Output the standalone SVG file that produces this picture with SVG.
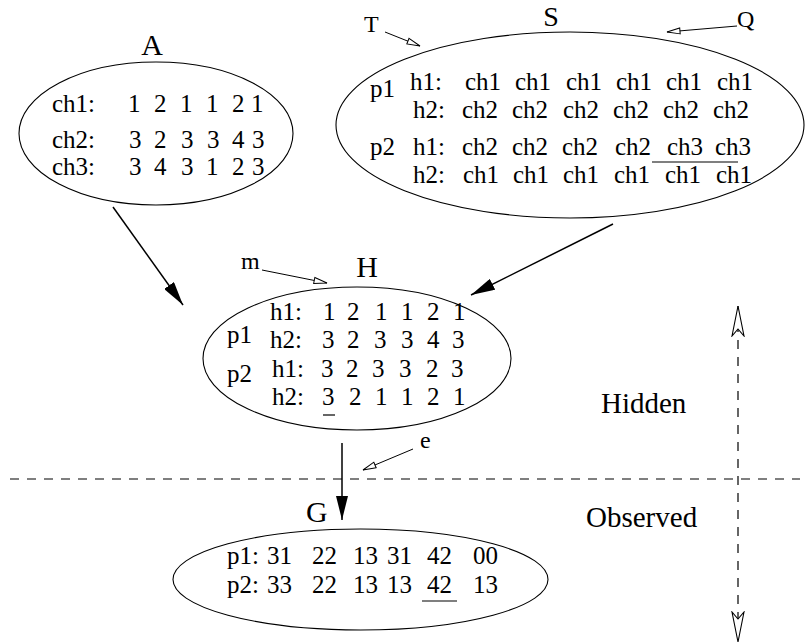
<svg xmlns="http://www.w3.org/2000/svg" width="806" height="644" viewBox="0 0 806 644">
  <style>
    text { font-family: "Liberation Serif", "Times New Roman", serif; fill: #000; }
    .body { font-size: 25px; }
    .label { font-size: 30px; }
    .tag { font-size: 24px; }
    .big { font-size: 29px; }
    .shape { fill: none; stroke: #000; stroke-width: 1.1; }
    .edge { fill: none; stroke: #000; stroke-width: 1.5; }
    .pointer { fill: none; stroke: #000; stroke-width: 1; }
    .rule { fill: none; stroke: #000; stroke-width: 1.2; }
    .dash { fill: none; stroke: #000; stroke-width: 1.2; stroke-dasharray: 9 8; }
  </style>
  <defs>
    <marker id="solid" viewBox="0 0 24 12" refX="24" refY="6" markerWidth="24" markerHeight="12" markerUnits="userSpaceOnUse" orient="auto">
      <path d="M0,0 L24,6 L0,12 Z" fill="#000"/>
    </marker>
    <marker id="open" viewBox="0 0 15 8" refX="14" refY="4" markerWidth="15" markerHeight="8" markerUnits="userSpaceOnUse" orient="auto">
      <path d="M1,1 L14,4 L1,7 Z" fill="#fff" stroke="#000" stroke-width="1"/>
    </marker>
    <marker id="barb" viewBox="0 0 32 14" refX="31" refY="7" markerWidth="32" markerHeight="14" markerUnits="userSpaceOnUse" orient="auto-start-reverse">
      <path d="M1,1 L31,7 L1,13 L8,7 Z" fill="#fff" stroke="#000" stroke-width="1.1"/>
    </marker>
  </defs>

  <!-- node A: channel assignments -->
  <g id="node-A">
    <text class="label" x="152" y="55" text-anchor="middle">A</text>
    <ellipse class="shape" cx="156" cy="133.5" rx="137" ry="71.5"/>
    <text class="body" y="112"><tspan x="52">ch1:</tspan><tspan x="128">1</tspan><tspan x="154">2</tspan><tspan x="180">1</tspan><tspan x="206">1</tspan><tspan x="232">2</tspan><tspan x="251">1</tspan></text>
    <text class="body" y="148"><tspan x="52">ch2:</tspan><tspan x="129">3</tspan><tspan x="154">2</tspan><tspan x="181">3</tspan><tspan x="207">3</tspan><tspan x="232">4</tspan><tspan x="252">3</tspan></text>
    <text class="body" y="175"><tspan x="52">ch3:</tspan><tspan x="129">3</tspan><tspan x="154">4</tspan><tspan x="181">3</tspan><tspan x="206">1</tspan><tspan x="232">2</tspan><tspan x="252">3</tspan></text>
  </g>

  <!-- node S: haplotype channel sources -->
  <g id="node-S">
    <text class="label" x="551" y="26" text-anchor="middle" style="font-size:28px">S</text>
    <ellipse class="shape" cx="570" cy="125" rx="234" ry="93"/>
    <text class="body" x="370" y="97">p1</text>
    <text class="body" y="90"><tspan x="410">h1:</tspan><tspan x="465">ch1</tspan><tspan x="515">ch1</tspan><tspan x="566">ch1</tspan><tspan x="616">ch1</tspan><tspan x="666">ch1</tspan><tspan x="717">ch1</tspan></text>
    <text class="body" y="118"><tspan x="413">h2:</tspan><tspan x="462">ch2</tspan><tspan x="512">ch2</tspan><tspan x="563">ch2</tspan><tspan x="613">ch2</tspan><tspan x="663">ch2</tspan><tspan x="713">ch2</tspan></text>
    <text class="body" x="370" y="155">p2</text>
    <text class="body" y="155"><tspan x="413">h1:</tspan><tspan x="462">ch2</tspan><tspan x="512">ch2</tspan><tspan x="562">ch2</tspan><tspan x="615">ch2</tspan><tspan x="667">ch3</tspan><tspan x="715">ch3</tspan></text>
    <text class="body" y="183"><tspan x="413">h2:</tspan><tspan x="463">ch1</tspan><tspan x="513">ch1</tspan><tspan x="563">ch1</tspan><tspan x="614">ch1</tspan><tspan x="665">ch1</tspan><tspan x="716">ch1</tspan></text>
    <line class="rule" x1="652" y1="162" x2="738" y2="162"/>
  </g>

  <!-- node H: hidden haplotypes -->
  <g id="node-H">
    <text class="label" x="367" y="277" text-anchor="middle">H</text>
    <ellipse class="shape" cx="357" cy="358.5" rx="154" ry="71.5"/>
    <text class="body" x="227" y="343">p1</text>
    <text class="body" x="227" y="382">p2</text>
    <text class="body" y="320"><tspan x="270">h1:</tspan><tspan x="323">1</tspan><tspan x="347">2</tspan><tspan x="375">1</tspan><tspan x="401">1</tspan><tspan x="427">2</tspan><tspan x="453">1</tspan></text>
    <text class="body" y="348"><tspan x="270">h2:</tspan><tspan x="322">3</tspan><tspan x="347">2</tspan><tspan x="374">3</tspan><tspan x="401">3</tspan><tspan x="427">4</tspan><tspan x="452">3</tspan></text>
    <text class="body" y="377"><tspan x="272">h1:</tspan><tspan x="321">3</tspan><tspan x="346">2</tspan><tspan x="372">3</tspan><tspan x="399">3</tspan><tspan x="426">2</tspan><tspan x="451">3</tspan></text>
    <text class="body" y="405"><tspan x="272">h2:</tspan><tspan x="322">3</tspan><tspan x="349">2</tspan><tspan x="375">1</tspan><tspan x="401">1</tspan><tspan x="427">2</tspan><tspan x="453">1</tspan></text>
    <line class="rule" x1="323" y1="415" x2="335" y2="415"/>
  </g>

  <!-- node G: observed genotypes -->
  <g id="node-G">
    <text class="label" x="306" y="522">G</text>
    <ellipse class="shape" cx="360.5" cy="579.5" rx="187.5" ry="50.5"/>
    <text class="body" y="564"><tspan x="227">p1:</tspan><tspan x="267">31</tspan><tspan x="312">22</tspan><tspan x="353">13</tspan><tspan x="387">31</tspan><tspan x="427">42</tspan><tspan x="473">00</tspan></text>
    <text class="body" y="593"><tspan x="227">p2:</tspan><tspan x="267">33</tspan><tspan x="312">22</tspan><tspan x="353">13</tspan><tspan x="387">13</tspan><tspan x="427">42</tspan><tspan x="473">13</tspan></text>
    <line class="rule" x1="422" y1="601" x2="457" y2="601"/>
  </g>

  <!-- dependencies between nodes -->
  <g id="connectors">
    <line class="edge" x1="113" y1="207" x2="183" y2="305" marker-end="url(#solid)"/>
    <line class="edge" x1="613" y1="224" x2="471" y2="295" marker-end="url(#solid)"/>
    <line class="edge" x1="342" y1="443" x2="342" y2="520" marker-end="url(#solid)"/>
  </g>

  <!-- parameter pointers -->
  <g id="pointers">
    <text class="tag" x="364" y="32">T</text>
    <line class="pointer" x1="385" y1="32" x2="420" y2="46" marker-end="url(#open)"/>
    <text class="tag" x="737" y="27">Q</text>
    <line class="pointer" x1="737" y1="26" x2="667" y2="32" marker-end="url(#open)"/>
    <text class="tag" x="241" y="269">m</text>
    <line class="pointer" x1="262" y1="270" x2="327" y2="283" marker-end="url(#open)"/>
    <text class="tag" x="420" y="448">e</text>
    <line class="pointer" x1="413" y1="449" x2="363" y2="470" marker-end="url(#open)"/>
  </g>

  <!-- hidden / observed divide -->
  <g id="divider">
    <line class="dash" x1="10" y1="479" x2="800" y2="479"/>
    <line class="dash" x1="738" y1="306" x2="738" y2="642" marker-start="url(#barb)" marker-end="url(#barb)"/>
    <text class="big" x="601" y="413">Hidden</text>
    <text class="big" x="586" y="527">Observed</text>
  </g>
</svg>
